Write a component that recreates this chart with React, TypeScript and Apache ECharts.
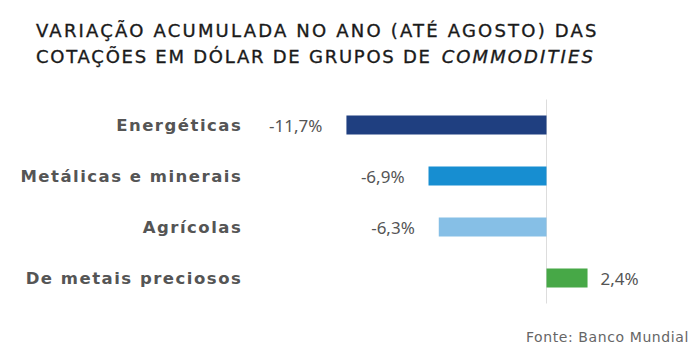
import React, { useEffect, useRef } from "react";
import * as echarts from "echarts";

const categories = ["Energéticas", "Metálicas e minerais", "Agrícolas", "De metais preciosos"];
const values = [-11.7, -6.9, -6.3, 2.4];
const barColors = ["#1f3f80", "#178ed1", "#86bfe6", "#47a847"];
const titleLine1 = "VARIAÇÃO ACUMULADA NO ANO (ATÉ AGOSTO) DAS";
const titleLine2 = "COTAÇÕES EM DÓLAR DE GRUPOS DE";
const titleItalic = "COMMODITIES";
const sourceText = "Fonte: Banco Mundial";

const spacing: Record<string, number> = {
  [titleLine1]: 2.2,
  [titleLine2]: 1.75,
  [titleItalic]: 2.1,
  [sourceText]: 0.6,
};
categories.forEach((c) => (spacing[c] = 1.5));

export default function App() {
  const ref = useRef<HTMLDivElement>(null);
  useEffect(() => {
    const chart = echarts.init(ref.current!, null, { renderer: "svg" });
    const titleStyle = {
      fontFamily: "DejaVu Sans",
      fontSize: 18,
      fill: "#1a1a1a",
      stroke: "#1a1a1a",
      lineWidth: 0.35,
      verticalAlign: "middle",
    };
    chart.setOption({
      animation: false,
      backgroundColor: "#ffffff",
      graphic: [
        { type: "text", x: 36, y: 30, style: { ...titleStyle, text: titleLine1, align: "left" } },
        { type: "text", x: 36, y: 56.5, style: { ...titleStyle, text: titleLine2, align: "left" } },
        {
          type: "text",
          x: 595,
          y: 56.5,
          style: { ...titleStyle, text: titleItalic, align: "right", fontStyle: "italic" },
        },
        {
          type: "text",
          x: 689,
          y: 337,
          style: {
            text: sourceText,
            fontFamily: "DejaVu Sans",
            fontSize: 14,
            fill: "#666666",
            align: "right",
            verticalAlign: "middle",
          },
        },
      ],
      grid: { left: 341.3, width: 273.6, top: 99.5, height: 204 },
      xAxis: {
        type: "value",
        min: -12,
        max: 4,
        interval: 12,
        axisLine: { show: false },
        axisTick: { show: false },
        axisLabel: { show: false },
        splitLine: {
          show: true,
          showMinLine: false,
          showMaxLine: false,
          lineStyle: { color: "#dddddd", width: 1 },
        },
      },
      yAxis: {
        type: "category",
        inverse: true,
        data: categories,
        axisLine: { show: false },
        axisTick: { show: false },
        axisLabel: {
          margin: 99,
          fontFamily: "DejaVu Sans",
          fontWeight: "bold",
          fontSize: 16.5,
          color: "#555555",
        },
      },
      series: [
        {
          type: "bar",
          barWidth: 19,
          data: values.map((v, i) => ({
            value: v,
            itemStyle: { color: barColors[i] },
            label: {
              show: true,
              position: v < 0 ? "left" : "right",
              distance: v < 0 ? 24 : 13,
              formatter: () => v.toFixed(1).replace(".", ",") + "%",
              fontFamily: "Noto Sans",
              fontSize: 17,
              color: "#555555",
            },
          })),
        },
      ],
    });
    const applySpacing = () => {
      if (!ref.current) return;
      ref.current.querySelectorAll("text").forEach((t) => {
        const s = spacing[(t.textContent || "").trim()];
        if (s) (t as SVGTextElement).style.letterSpacing = s + "px";
      });
    };
    applySpacing();
    chart.on("finished", applySpacing);
    const raf = requestAnimationFrame(applySpacing);
    return () => {
      cancelAnimationFrame(raf);
      chart.dispose();
    };
  }, []);
  return <div ref={ref} style={{ position: "absolute", left: 0, top: 0, width: 700, height: 355 }} />;
}
